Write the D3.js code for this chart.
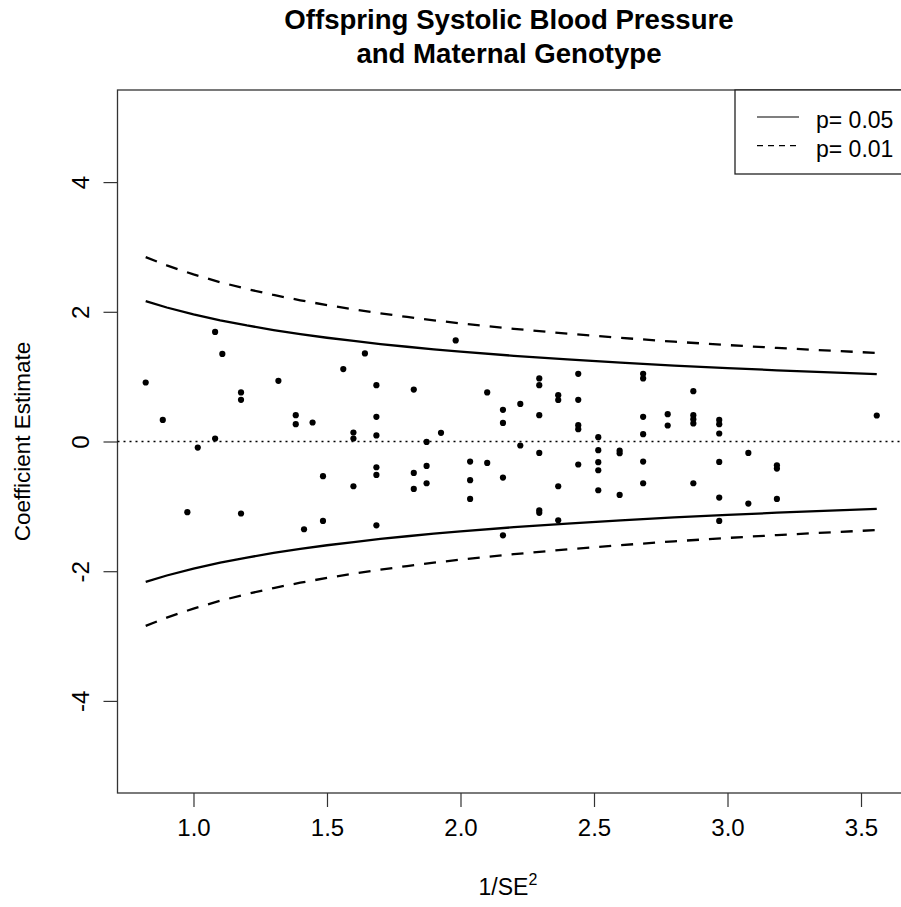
<!DOCTYPE html>
<html>
<head>
<meta charset="utf-8">
<script src="https://cdn.jsdelivr.net/npm/d3@7"></script>
<style>
  html, body { margin: 0; padding: 0; background: #fff; }
  svg { display: block; font-family: "Liberation Sans", Arial, sans-serif; }
</style>
</head>
<body>
<svg id="chart" width="901" height="907"></svg>
<script>
// Study estimates: precision (1/SE^2) and coefficient
const precision = [
  0.821, 0.885, 0.977, 1.016, 1.081, 1.081, 1.108, 1.178, 1.178, 1.178,
  1.318, 1.383, 1.383, 1.414, 1.446, 1.485, 1.485, 1.561, 1.599, 1.599,
  1.599, 1.642, 1.685, 1.685, 1.685, 1.685, 1.685, 1.685, 1.825, 1.825,
  1.825, 1.873, 1.873, 1.873, 1.927, 1.982, 2.036, 2.036, 2.036, 2.100,
  2.100, 2.159, 2.159, 2.159, 2.159, 2.224, 2.224, 2.295, 2.295, 2.295,
  2.295, 2.295, 2.295, 2.366, 2.366, 2.366, 2.366, 2.441, 2.441, 2.441,
  2.441, 2.441, 2.516, 2.516, 2.516, 2.516, 2.516, 2.596, 2.596, 2.596,
  2.684, 2.684, 2.684, 2.684, 2.684, 2.684, 2.776, 2.776, 2.872, 2.872,
  2.872, 2.872, 2.872, 2.969, 2.969, 2.969, 2.969, 2.969, 2.969, 3.078,
  3.078, 3.185, 3.185, 3.185, 3.559
];
const estimate = [
  0.910, 0.333, -1.090, -0.093, 1.690, 0.046, 1.350, 0.756, 0.642, -1.110,
  0.935, 0.406, 0.267, -1.353, 0.293, -0.535, -1.225, 1.116, 0.139, 0.046,
  -0.690, 1.358, 0.869, 0.380, 0.093, -0.397, -0.515, -1.292, 0.800, -0.485,
  -0.731, -0.006, -0.377, -0.644, 0.133, 1.558, -0.309, -0.597, -0.886, 0.756,
  -0.330, 0.488, 0.287, -0.556, -1.446, 0.580, -0.062, 0.972, 0.869, 0.406,
  -0.176, -1.060, -1.100, 0.714, 0.640, -0.690, -1.215, 1.043, 0.642, 0.252,
  0.190, -0.355, 0.066, -0.134, -0.319, -0.443, -0.752, -0.140, -0.180, -0.824,
  1.043, 0.972, 0.380, 0.113, -0.309, -0.644, 0.421, 0.247, 0.776, 0.406,
  0.344, 0.278, -0.644, 0.333, 0.267, 0.123, -0.315, -0.864, -1.225, -0.176,
  -0.957, -0.366, -0.417, -0.886, 0.401
];

// Significance bounds evaluated along the precision axis
const boundX   = [0.821, 0.9, 1.0, 1.1, 1.2, 1.3, 1.4, 1.5, 1.6, 1.7, 1.8, 1.9, 2.0, 2.2, 2.4, 2.6, 2.8, 3.0, 3.185, 3.559];
const bound05  = [2.163, 2.066, 1.960, 1.869, 1.789, 1.719, 1.657, 1.600, 1.550, 1.503, 1.461, 1.422, 1.386, 1.321, 1.265, 1.216, 1.171, 1.132, 1.098, 1.039];
const bound01  = [2.843, 2.715, 2.576, 2.456, 2.352, 2.259, 2.177, 2.103, 2.037, 1.976, 1.920, 1.869, 1.822, 1.737, 1.663, 1.598, 1.539, 1.487, 1.443, 1.365];

const xTicks = [1.0, 1.5, 2.0, 2.5, 3.0, 3.5];
const yTicks = [-4, -2, 0, 2, 4];
const legendLabels = ["p= 0.05", "p= 0.01"];
const titleLines = ["Offspring Systolic Blood Pressure", "and Maternal Genotype"];

const svg = d3.select("#chart");
const plot = { left: 117.5, right: 906.4, top: 90, bottom: 793 };

const x = d3.scaleLinear().domain([0.7154, 3.670]).range([plot.left, plot.right]);
const y = d3.scaleLinear().domain([-5.42, 5.42]).range([plot.bottom, plot.top]);

// Title
svg.append("g").selectAll("text").data(titleLines).join("text")
  .attr("x", (plot.left + plot.right) / 2 - 3)
  .attr("y", (d, i) => 29 + i * 34)
  .attr("text-anchor", "middle")
  .attr("font-weight", "bold")
  .attr("font-size", 27.6)
  .text(d => d);

// Axes
const xAxis = svg.append("g")
  .attr("transform", `translate(0,${plot.bottom})`)
  .call(d3.axisBottom(x).tickValues(xTicks).tickFormat(d3.format(".1f")).tickSize(14).tickPadding(12));
xAxis.select(".domain").remove();
xAxis.selectAll("text").attr("font-size", 24).attr("font-family", "Liberation Sans, Arial, sans-serif").attr("fill", "#000");
xAxis.selectAll("line").attr("stroke", "#333").attr("stroke-width", 1.2);

const yAxis = svg.append("g")
  .attr("transform", `translate(${plot.left},0)`)
  .call(d3.axisLeft(y).tickValues(yTicks).tickFormat(d => String(d)).tickSize(14));
yAxis.select(".domain").remove();
yAxis.selectAll("line").attr("stroke", "#333").attr("stroke-width", 1.2);
yAxis.selectAll("text")
  .attr("font-size", 24).attr("font-family", "Liberation Sans, Arial, sans-serif").attr("fill", "#000")
  .attr("x", null).attr("dy", null)
  .attr("text-anchor", "middle")
  .attr("transform", "translate(-28.5,0) rotate(-90)");

// Plot frame
svg.append("rect")
  .attr("x", plot.left).attr("y", plot.top)
  .attr("width", plot.right - plot.left).attr("height", plot.bottom - plot.top)
  .attr("fill", "none").attr("stroke", "#333").attr("stroke-width", 1.3);

// Axis titles
const xl = svg.append("text")
  .attr("x", (plot.left + plot.right) / 2 - 4).attr("y", 895)
  .attr("text-anchor", "middle").attr("font-size", 23);
xl.append("tspan").text("1/SE");
xl.append("tspan").attr("dy", -10).attr("font-size", 16).text("2");

svg.append("text")
  .attr("transform", `translate(30,${y(0)}) rotate(-90)`)
  .attr("text-anchor", "middle").attr("font-size", 22.5)
  .text("Coefficient Estimate");

// Zero reference line
svg.append("line")
  .attr("x1", plot.left).attr("x2", plot.right)
  .attr("y1", y(0)).attr("y2", y(0))
  .attr("stroke", "#000").attr("stroke-width", 1.3).attr("stroke-dasharray", "2,4");

// Bounds
const line = d3.line().x(d => x(d[0])).y(d => y(d[1]));
const curves = [
  { vals: bound05, sign: 1, dash: null },
  { vals: bound05, sign: -1, dash: null },
  { vals: bound01, sign: 1, dash: "12,10" },
  { vals: bound01, sign: -1, dash: "12,10" }
];
svg.append("g").selectAll("path").data(curves).join("path")
  .attr("d", c => line(boundX.map((bx, i) => [bx, c.sign * c.vals[i]])))
  .attr("fill", "none").attr("stroke", "#000").attr("stroke-width", 2.3)
  .attr("stroke-dasharray", c => c.dash);

// Points
svg.append("g").selectAll("circle").data(precision).join("circle")
  .attr("cx", d => x(d))
  .attr("cy", (d, i) => y(estimate[i]))
  .attr("r", 3.1)
  .attr("fill", "#000");

// Legend
const lg = svg.append("g");
lg.append("rect")
  .attr("x", 735).attr("y", plot.top)
  .attr("width", plot.right - 735).attr("height", 84)
  .attr("fill", "#fff").attr("stroke", "#222").attr("stroke-width", 1.3);
legendLabels.forEach((lab, i) => {
  const ly = 117 + i * 28.7;
  lg.append("line")
    .attr("x1", 757).attr("x2", 799).attr("y1", ly).attr("y2", ly)
    .attr("stroke", "#000").attr("stroke-width", 1.2)
    .attr("stroke-dasharray", i === 1 ? "6,5" : null);
  lg.append("text")
    .attr("x", 816).attr("y", ly + 11)
    .attr("font-size", 23)
    .text(lab);
});
</script>
</body>
</html>
